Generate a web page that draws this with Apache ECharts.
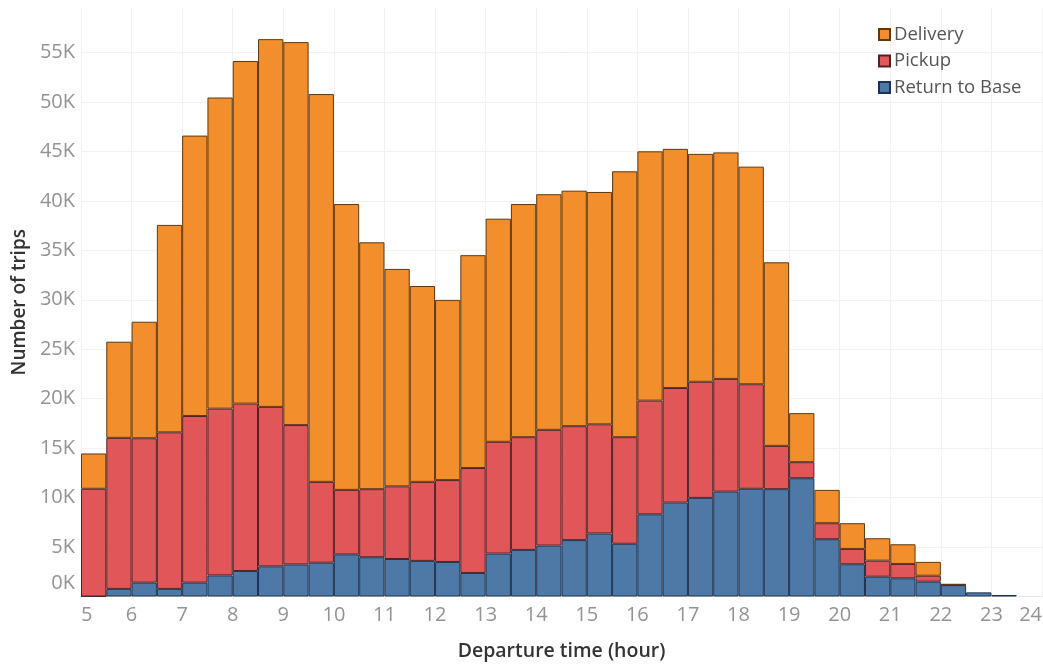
<!DOCTYPE html>
<html>
<head>
<meta charset="utf-8">
<script src="https://cdn.jsdelivr.net/npm/echarts@6/dist/echarts.min.js"></script>
<style>
html,body{margin:0;padding:0;background:#fff;}
#chart{width:1043px;height:664px;}
</style>
</head>
<body>
<div id="chart"></div>
<script>
// Half-hour bins (start of each bin, hours)
const binStarts = [5,5.5,6,6.5,7,7.5,8,8.5,9,9.5,10,10.5,11,11.5,12,12.5,13,13.5,14,14.5,15,15.5,16,16.5,17,17.5,18,18.5,19,19.5,20,20.5,21,21.5,22,22.5,23,23.5];
const seriesNames = ['Delivery','Pickup','Return to Base'];
const returnToBase = [0,770,1400,770,1400,2130,2580,3050,3240,3420,4260,3970,3790,3600,3490,2380,4340,4710,5150,5700,6370,5330,8310,9490,9970,10600,10890,10850,11960,5790,3260,2000,1840,1500,1150,420,150,null];
const pickup = [10890,15270,14600,15830,16850,16860,16920,16120,14090,8170,6520,6880,7350,7990,8280,10610,11300,11400,11700,11520,11040,10780,11490,11590,11740,11400,10570,4380,1620,1620,1550,1620,1450,600,50,null,null,null];
const delivery = [3570,9720,11780,20970,28350,31460,34640,37180,38720,39210,28900,24960,21980,19800,18220,21520,22560,23570,23820,23810,23490,26880,25210,24180,23040,22900,22000,18560,4960,3370,2600,2270,1990,1400,50,null,null,null];
const xMin = 5, xMax = 24, xStep = 1;
const yMax = 59500, yStep = 5000;

const FONT = '"Open Sans", "DejaVu Sans", sans-serif';
const chart = echarts.init(document.getElementById('chart'));

function barSeries(name, data, color, border) {
  return {
    name: name, type: 'bar', stack: 'trips', xAxisIndex: 0,
    data: data, barCategoryGap: '0%', barGap: '0%',
    itemStyle: { color: color, borderColor: border, borderWidth: 1 },
    emphasis: { disabled: true }
  };
}

chart.setOption({
  animation: false,
  backgroundColor: '#ffffff',
  grid: { left: 81, right: 1, top: 8, bottom: 67.5, containLabel: false, outerBoundsMode: 'none' },
  legend: {
    orient: 'vertical', left: 873, top: 20,
    data: seriesNames,
    itemWidth: 11, itemHeight: 11, itemGap: 7.5, icon: 'rect',
    textStyle: { fontFamily: FONT, fontSize: 18.5, color: '#555', lineHeight: 18, padding: [0,0,0,-1] }
  },
  xAxis: [
    { type: 'category', data: binStarts, show: false, boundaryGap: true },
    {
      type: 'value', min: xMin, max: xMax, interval: xStep, position: 'bottom',
      name: 'Departure time (hour)', nameLocation: 'middle', nameGap: 45,
      nameTextStyle: { fontFamily: FONT, fontSize: 19.5, fontWeight: 600, color: '#333' },
      axisLine: { show: true, lineStyle: { color: '#e6e6e6' } },
      axisTick: { show: false },
      axisLabel: { fontFamily: FONT, fontSize: 20, color: '#939393', margin: 9,
        alignMinLabel: 'left', alignMaxLabel: 'right' },
      splitLine: { show: true, lineStyle: { color: '#f1f1f1' } }
    }
  ],
  yAxis: {
    type: 'value', min: 0, max: yMax, interval: yStep,
    name: 'Number of trips', nameLocation: 'middle', nameGap: 52, nameRotate: 90,
    nameTextStyle: { fontFamily: FONT, fontSize: 19, fontWeight: 600, color: '#333' },
    axisLine: { show: false }, axisTick: { show: false },
    axisLabel: {
      fontFamily: FONT, fontSize: 20, color: '#939393', margin: 6,
      formatter: function (v) {
        if (v % yStep !== 0) return '';
        if (v === 0) return '{z|0K}';
        return (v / 1000) + 'K';
      },
      rich: { z: { fontFamily: FONT, fontSize: 20, color: '#939393', padding: [0,0,27,0] } }
    },
    splitLine: { show: true, showMaxLine: false, lineStyle: { color: '#f1f1f1' } }
  },
  series: [
    barSeries('Return to Base', returnToBase, '#4E79A7', '#1f3350'),
    barSeries('Pickup', pickup, '#E15759', '#4e2326'),
    barSeries('Delivery', delivery, '#F28E2B', '#5e3812')
  ]
});
</script>
</body>
</html>
